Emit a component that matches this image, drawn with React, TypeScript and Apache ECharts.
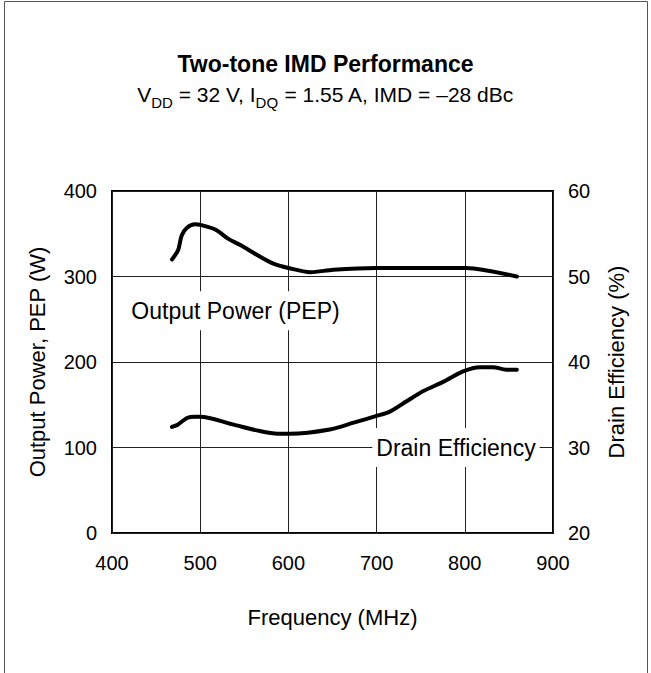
import React, { useEffect, useRef } from "react";
import * as echarts from "echarts";

const FONT = "'Liberation Sans', Arial, Helvetica, sans-serif";

// Output power (PEP, W) vs frequency (MHz)
const powerFreq = [468, 475, 479, 485, 494, 500, 517, 532, 545, 564, 583, 600, 625, 651, 700, 801, 825, 859];
const powerValues = [320, 331, 348, 357, 361, 360.5, 355, 344, 337, 325.5, 315, 310, 305, 308, 310, 310, 307, 300];

// Drain efficiency (%) vs frequency (MHz)
const effFreq = [468, 475, 485, 494, 500, 537, 564, 588, 602, 647, 674, 700, 715, 734, 753, 776, 798, 817, 832, 847, 859];
const effValues = [32.4, 32.7, 33.45, 33.6, 33.6, 32.7, 32.0, 31.6, 31.6, 32.1, 32.9, 33.7, 34.2, 35.4, 36.6, 37.7, 38.9, 39.4, 39.4, 39.1, 39.1];

// Axis ranges
const xRange = [400, 900, 100];
const yLeftRange = [0, 400, 100];
const yRightRange = [20, 60, 10];

// In-plot labels (data coordinates)
const powerLabel = { text: "Output Power (PEP)", coord: [540, 260] };
const effLabel = { text: "Drain Efficiency", coord: [790, 30] };

const titleText = "Two-tone IMD Performance";
const subtitleRich = "{n|V}{s|DD}{n| = 32 V, I}{s|DQ}{n| = 1.55 A, IMD = –28 dBc}";

export default function App() {
  const ref = useRef<HTMLDivElement>(null);
  useEffect(() => {
    if (!ref.current) return;
    const chart = echarts.init(ref.current, null, { renderer: "svg" });
    const labelStyle = {
      show: true,
      position: "inside",
      color: "#000",
      fontSize: 23,
      fontFamily: FONT,
      backgroundColor: "#fff",
      padding: [8, 4, 8, 4],
    };
    chart.setOption({
      animation: false,
      backgroundColor: "#fff",
      textStyle: { fontFamily: FONT },
      title: {
        text: titleText,
        subtext: subtitleRich,
        left: "center",
        top: 47,
        itemGap: 5,
        textStyle: { fontSize: 23, fontWeight: "bold", color: "#000", fontFamily: FONT },
        subtextStyle: {
          color: "#000",
          fontFamily: FONT,
          rich: {
            n: { fontSize: 21, lineHeight: 29, color: "#000", fontFamily: FONT },
            s: { fontSize: 15, lineHeight: 15, padding: [16, 0, 0, 0], color: "#000", fontFamily: FONT },
          },
        },
      },
      graphic: [
        {
          type: "rect",
          silent: true,
          shape: { x: 4.5, y: 1.5, width: 643, height: 720 },
          style: { fill: "none", stroke: "#555", lineWidth: 1 },
        },
      ],
      grid: {
        left: 112,
        top: 191,
        width: 441,
        height: 342,
        show: true,
        borderColor: "#000",
        borderWidth: 2,
        backgroundColor: "transparent",
      },
      xAxis: {
        type: "value",
        min: xRange[0],
        max: xRange[1],
        interval: xRange[2],
        name: "Frequency (MHz)",
        nameLocation: "middle",
        nameGap: 73,
        nameTextStyle: { fontSize: 22, color: "#000", fontFamily: FONT },
        axisLine: { show: false },
        axisTick: { show: false },
        axisLabel: { fontSize: 20, color: "#000", margin: 20, fontFamily: FONT },
        splitLine: { show: true, lineStyle: { color: "#222", width: 1 } },
      },
      yAxis: [
        {
          type: "value",
          min: yLeftRange[0],
          max: yLeftRange[1],
          interval: yLeftRange[2],
          name: "Output Power, PEP (W)",
          nameLocation: "middle",
          nameGap: 64,
          nameTextStyle: { fontSize: 22, color: "#000", fontFamily: FONT },
          axisLine: { show: false },
          axisTick: { show: false },
          axisLabel: { fontSize: 20, color: "#000", margin: 15, fontFamily: FONT },
          splitLine: { show: true, lineStyle: { color: "#222", width: 1 } },
        },
        {
          type: "value",
          position: "right",
          min: yRightRange[0],
          max: yRightRange[1],
          interval: yRightRange[2],
          name: "Drain Efficiency (%)",
          nameLocation: "middle",
          nameGap: 52,
          nameTextStyle: { fontSize: 22, color: "#000", fontFamily: FONT },
          axisLine: { show: false },
          axisTick: { show: false },
          axisLabel: { fontSize: 20, color: "#000", margin: 15, fontFamily: FONT },
          splitLine: { show: false },
        },
      ],
      series: [
        {
          type: "line",
          name: "Output Power",
          yAxisIndex: 0,
          data: powerFreq.map((f, i) => [f, powerValues[i]]),
          smooth: 0.3,
          showSymbol: false,
          lineStyle: { color: "#000", width: 4, cap: "round", join: "round" },
          z: 3,
          markPoint: {
            symbol: "rect",
            symbolSize: 0,
            silent: true,
            data: [{ coord: powerLabel.coord, value: powerLabel.text }],
            label: { ...labelStyle, formatter: powerLabel.text },
          },
        },
        {
          type: "line",
          name: "Drain Efficiency",
          yAxisIndex: 1,
          data: effFreq.map((f, i) => [f, effValues[i]]),
          smooth: 0.3,
          showSymbol: false,
          lineStyle: { color: "#000", width: 4, cap: "round", join: "round" },
          z: 3,
          markPoint: {
            symbol: "rect",
            symbolSize: 0,
            silent: true,
            data: [{ coord: effLabel.coord, value: effLabel.text }],
            label: { ...labelStyle, formatter: effLabel.text },
          },
        },
      ],
    });
    return () => chart.dispose();
  }, []);
  return (
    <div
      ref={ref}
      style={{ position: "absolute", left: 0, top: 0, width: 651, height: 673, background: "#fff" }}
    />
  );
}
